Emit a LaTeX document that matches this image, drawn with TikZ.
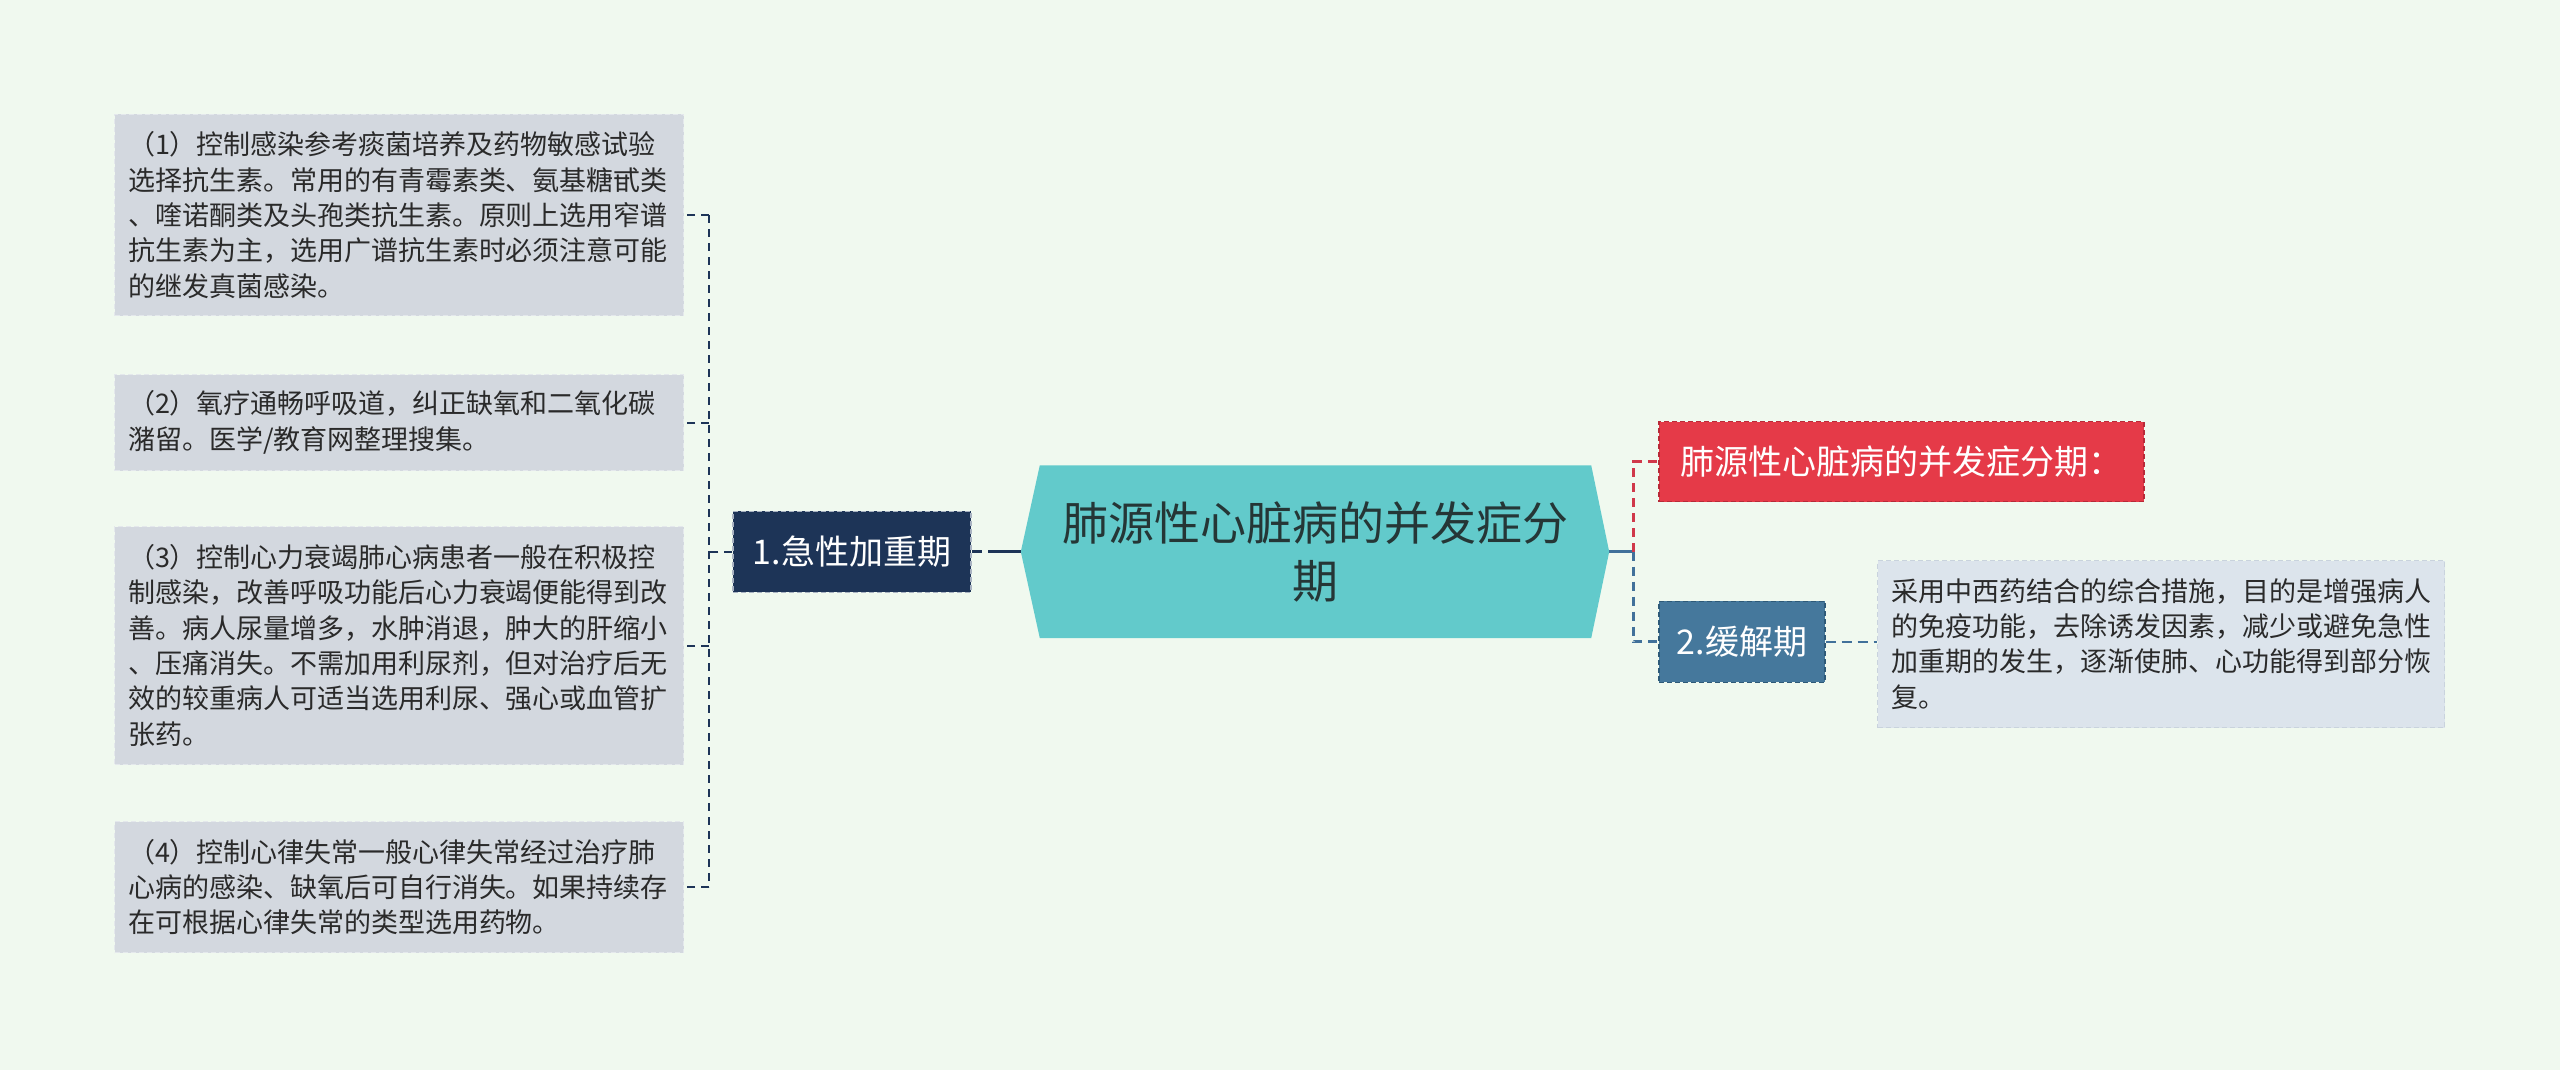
\documentclass[tikz,border=0pt]{standalone}
\usepackage{fontspec}
\setmainfont{Noto Sans CJK SC}
\usetikzlibrary{backgrounds}
\definecolor{bgc}{HTML}{F0F9EF}
\definecolor{leaffill}{HTML}{D3D8DF}
\definecolor{leafdraw}{HTML}{E4E8EC}
\definecolor{leaftext}{HTML}{2A2A2A}
\definecolor{navy}{HTML}{1D3457}
\definecolor{navydraw}{HTML}{A9B3C2}
\definecolor{hexfill}{HTML}{62CACB}
\definecolor{hextext}{HTML}{253636}
\definecolor{redfill}{HTML}{E53A48}
\definecolor{reddraw}{HTML}{B82A38}
\definecolor{redline}{HTML}{D0384A}
\definecolor{bluefill}{HTML}{45789C}
\definecolor{bluedraw}{HTML}{2E5A78}
\definecolor{blueline}{HTML}{41719A}
\definecolor{descfill}{HTML}{DCE4EC}
\definecolor{descdraw}{HTML}{C9D3DD}
\begin{document}
\begin{tikzpicture}[x=1pt,y=-1pt,
  leafbox/.style={fill=leaffill, draw=leafdraw, dash pattern=on 5pt off 3pt, line width=1pt,
    anchor=north west, align=left, text width=542pt, inner xsep=13.5pt, inner ysep=0pt,
    minimum width=569pt, font=\fontsize{27}{35.3}\selectfont, text=leaftext},
  descbox/.style={leafbox, fill=descfill, draw=descdraw, text width=540pt, minimum width=567pt},
  topicbox/.style={minimum height=81pt, inner sep=0pt, font=\fontsize{34}{40}\selectfont,
    text=white, line width=1.2pt, dash pattern=on 5pt off 3pt},
  lconn/.style={draw=navy, line width=2pt, dash pattern=on 8pt off 6pt},
  redconn/.style={draw=redline, line width=3pt, dash pattern=on 9pt off 6pt},
  blueconn/.style={draw=blueline, line width=3pt, dash pattern=on 9pt off 6pt},
  descconn/.style={draw=blueline, line width=2pt, dash pattern=on 10pt off 6pt}
]
\useasboundingbox (0,0) rectangle (2560,1070);
\begin{scope}[on background layer]
  \fill[bgc] (0,0) rectangle (2560,1070);
\end{scope}

% central topic
\node[minimum width=588pt, minimum height=172.5pt, inner sep=0pt, align=center,
  font=\fontsize{46}{58}\selectfont, text=hextext] (hex) at (1315,551.7)
  {肺源性心脏病的并发症分\\期};
\begin{scope}[on background layer]
  \fill[hexfill] (hex.west) -- ([xshift=19pt]hex.north west) -- ([xshift=-18pt]hex.north east)
    -- (hex.east) -- ([xshift=-18pt]hex.south east) -- ([xshift=19pt]hex.south west) -- cycle;
\end{scope}

% left branch
\node[topicbox, fill=navy, draw=navydraw, minimum width=238pt] (n1) at (852,551.7) {1.急性加重期};

\node[leafbox, minimum height=201pt] (b1) at (114,114)
  {（1）控制感染参考痰菌培养及药物敏感试验\\选择抗生素。常用的有青霉素类、氨基糖甙类\\、喹诺酮类及头孢类抗生素。原则上选用窄谱\\抗生素为主，选用广谱抗生素时必须注意可能\\的继发真菌感染。};
\node[leafbox, minimum height=96pt] (b2) at (114,374)
  {（2）氧疗通畅呼吸道，纠正缺氧和二氧化碳\\潴留。医学/教育网整理搜集。};
\node[leafbox, minimum height=238pt] (b3) at (114,526)
  {（3）控制心力衰竭肺心病患者一般在积极控\\制感染，改善呼吸功能后心力衰竭便能得到改\\善。病人尿量增多，水肿消退，肿大的肝缩小\\、压痛消失。不需加用利尿剂，但对治疗后无\\效的较重病人可适当选用利尿、强心或血管扩\\张药。};
\node[leafbox, minimum height=131pt] (b4) at (114,821)
  {（4）控制心律失常一般心律失常经过治疗肺\\心病的感染、缺氧后可自行消失。如果持续存\\在可根据心律失常的类型选用药物。};

\coordinate (lv) at (709,551.7);
\draw[draw=navy, line width=3pt, dash pattern=on 33pt off 6pt] (hex.west) -- (n1.east);
\draw[lconn] (n1.west) -- (n1.west -| lv);
\draw[lconn] (b1.east -| lv) -- (b4.east -| lv);
\draw[lconn] (b1.east -| lv) -- (b1.east);
\draw[lconn] (b2.east -| lv) -- (b2.east);
\draw[lconn] (b3.east -| lv) -- (b3.east);
\draw[lconn] (b4.east -| lv) -- (b4.east);

% right branch
\node[topicbox, fill=redfill, draw=reddraw, minimum width=485pt, minimum height=80pt] (red) at (1901.5,461.5) {肺源性心脏病的并发症分期：};
\node[topicbox, fill=bluefill, draw=bluedraw, minimum width=166pt] (n2) at (1742,641.7) {2.缓解期};
\node[descbox, minimum height=167pt] (desc) at (1877,560)
  {采用中西药结合的综合措施，目的是增强病人\\的免疫功能，去除诱发因素，减少或避免急性\\加重期的发生，逐渐使肺、心功能得到部分恢\\复。};

\coordinate (rv) at (1633,551.7);
\draw[draw=blueline, line width=3pt] (hex.east) -- (rv);
\draw[redconn] (rv) -- (rv |- red.west) -- (red.west);
\draw[blueconn] (rv) -- (rv |- n2.west) -- (n2.west);
\draw[descconn] (n2.east) -- (desc.west |- n2.east);
\end{tikzpicture}
\end{document}
